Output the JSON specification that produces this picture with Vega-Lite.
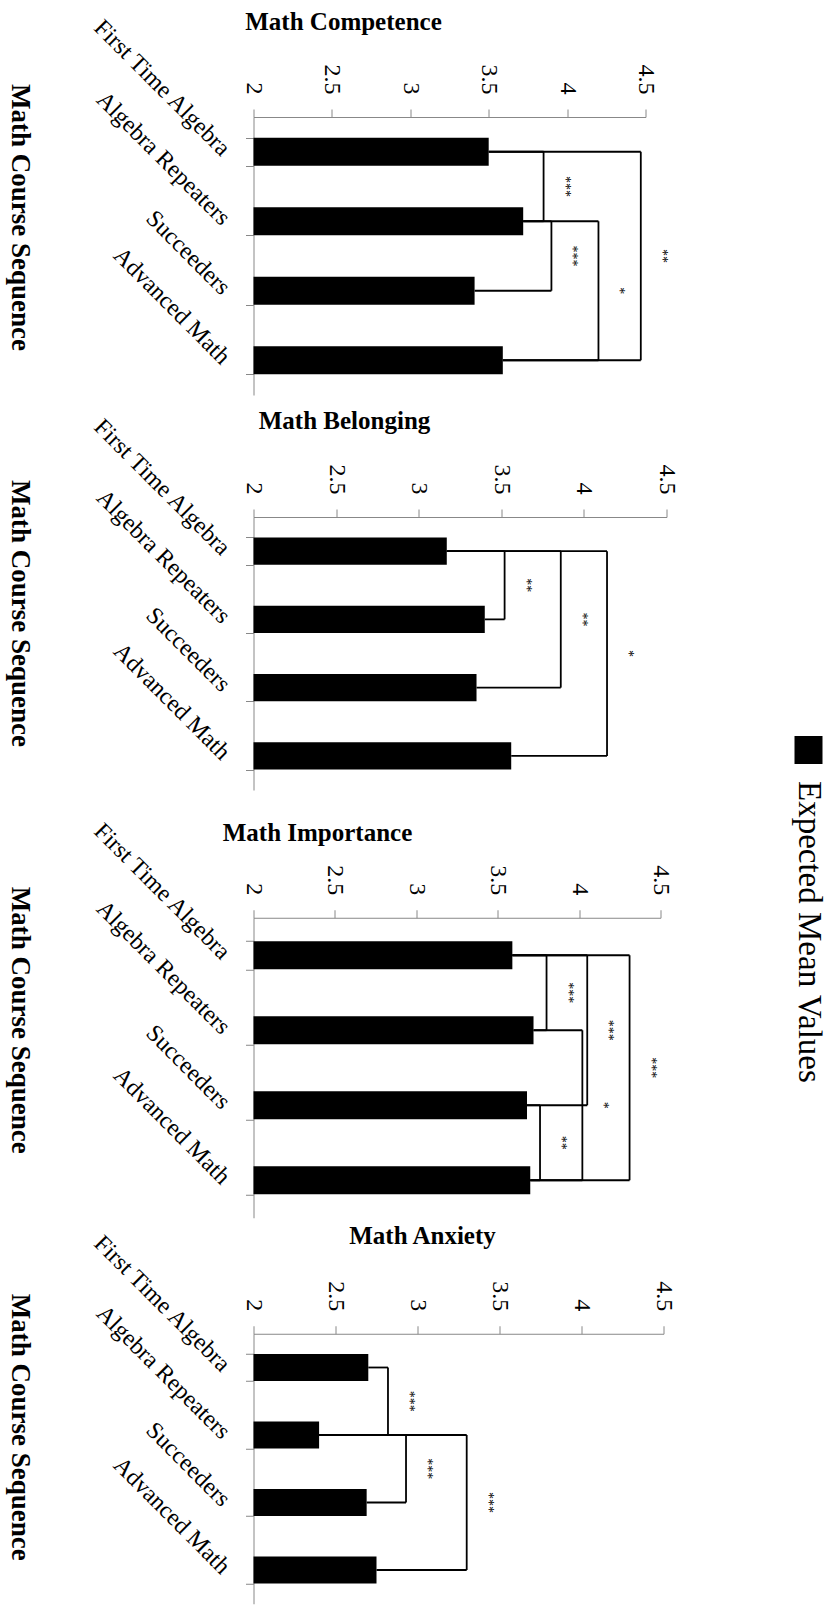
{
  "$schema": "https://vega.github.io/schema/vega-lite/v6.json",
  "padding": {"left": 6.5, "top": 9, "right": 5, "bottom": 0},
  "config": {"font": "Liberation Serif", "view": {"stroke": null}},
  "datasets": {
    "bars": [
      {"panel": "Math Competence", "cat": "First Time Algebra", "value": 3.50},
      {"panel": "Math Competence", "cat": "Algebra Repeaters", "value": 3.72},
      {"panel": "Math Competence", "cat": "Succeeders", "value": 3.41},
      {"panel": "Math Competence", "cat": "Advanced Math", "value": 3.59},
      {"panel": "Math Belonging", "cat": "First Time Algebra", "value": 3.17},
      {"panel": "Math Belonging", "cat": "Algebra Repeaters", "value": 3.40},
      {"panel": "Math Belonging", "cat": "Succeeders", "value": 3.35},
      {"panel": "Math Belonging", "cat": "Advanced Math", "value": 3.56},
      {"panel": "Math Importance", "cat": "First Time Algebra", "value": 3.59},
      {"panel": "Math Importance", "cat": "Algebra Repeaters", "value": 3.72},
      {"panel": "Math Importance", "cat": "Succeeders", "value": 3.68},
      {"panel": "Math Importance", "cat": "Advanced Math", "value": 3.70},
      {"panel": "Math Anxiety", "cat": "First Time Algebra", "value": 2.70},
      {"panel": "Math Anxiety", "cat": "Algebra Repeaters", "value": 2.40},
      {"panel": "Math Anxiety", "cat": "Succeeders", "value": 2.69},
      {"panel": "Math Anxiety", "cat": "Advanced Math", "value": 2.75}
    ],
    "brackets": [
      {"panel": "Math Competence", "from": "First Time Algebra", "to": "Algebra Repeaters", "fromVal": 3.50, "toVal": 3.72, "level": 3.85, "sig": "***"},
      {"panel": "Math Competence", "from": "Algebra Repeaters", "to": "Succeeders", "fromVal": 3.72, "toVal": 3.41, "level": 3.90, "sig": "***"},
      {"panel": "Math Competence", "from": "Algebra Repeaters", "to": "Advanced Math", "fromVal": 3.72, "toVal": 3.59, "level": 4.20, "sig": "*"},
      {"panel": "Math Competence", "from": "First Time Algebra", "to": "Advanced Math", "fromVal": 3.50, "toVal": 3.59, "level": 4.47, "sig": "**"},
      {"panel": "Math Belonging", "from": "First Time Algebra", "to": "Algebra Repeaters", "fromVal": 3.17, "toVal": 3.40, "level": 3.52, "sig": "**"},
      {"panel": "Math Belonging", "from": "First Time Algebra", "to": "Succeeders", "fromVal": 3.17, "toVal": 3.35, "level": 3.86, "sig": "**"},
      {"panel": "Math Belonging", "from": "First Time Algebra", "to": "Advanced Math", "fromVal": 3.17, "toVal": 3.56, "level": 4.14, "sig": "*"},
      {"panel": "Math Importance", "from": "First Time Algebra", "to": "Algebra Repeaters", "fromVal": 3.59, "toVal": 3.72, "level": 3.80, "sig": "***"},
      {"panel": "Math Importance", "from": "First Time Algebra", "to": "Succeeders", "fromVal": 3.59, "toVal": 3.68, "level": 4.05, "sig": "***"},
      {"panel": "Math Importance", "from": "First Time Algebra", "to": "Advanced Math", "fromVal": 3.59, "toVal": 3.70, "level": 4.31, "sig": "***"},
      {"panel": "Math Importance", "from": "Algebra Repeaters", "to": "Advanced Math", "fromVal": 3.72, "toVal": 3.70, "level": 4.02, "sig": "*"},
      {"panel": "Math Importance", "from": "Succeeders", "to": "Advanced Math", "fromVal": 3.68, "toVal": 3.70, "level": 3.76, "sig": "**"},
      {"panel": "Math Anxiety", "from": "First Time Algebra", "to": "Algebra Repeaters", "fromVal": 2.70, "toVal": 2.40, "level": 2.82, "sig": "***"},
      {"panel": "Math Anxiety", "from": "Algebra Repeaters", "to": "Succeeders", "fromVal": 2.40, "toVal": 2.69, "level": 2.93, "sig": "***"},
      {"panel": "Math Anxiety", "from": "Algebra Repeaters", "to": "Advanced Math", "fromVal": 2.40, "toVal": 2.75, "level": 3.30, "sig": "***"}
    ]
  },
  "spacing": 113,
  "hconcat": [
    {
      "spacing": 26.75,
      "vconcat": [
        {
          "spacing": 13,
          "vconcat": [
            {
              "title": {"text": "Math Competence", "anchor": "middle", "dx": -106, "offset": -21, "font": "Liberation Serif", "fontSize": 25, "fontWeight": "bold", "color": "#000000"},
              "width": 392, "height": 278,
              "layer": [
                {"data": {"name": "bars"}, "transform": [{"filter": {"field": "panel", "equal": "Math Competence"}}],
                 "mark": {"type": "bar", "color": "#000000"},
                 "encoding": {
                   "y": {"field": "cat", "type": "nominal", "title": "Math Course Sequence", "scale": {"type": "band", "domain": ["First Time Algebra", "Algebra Repeaters", "Succeeders", "Advanced Math"], "paddingInner": 0.6, "paddingOuter": 0.3},
                         "axis": {"title": "Math Course Sequence", "titleFont": "Liberation Serif", "titleFontSize": 27, "titleFontWeight": "bold", "titleColor": "#000000", "titleAngle": 90, "titleAlign": "center", "titleBaseline": "middle", "titleX": -234, "titleY": 100,
                                  "labelAngle": 45, "labelAlign": "right", "labelBaseline": "middle", "labelFontSize": 24, "labelColor": "#000000", "labelPadding": 20, "labelLimit": 400,
                                  "tickBand": "extent", "tickSize": 8, "tickColor": "#888888", "domainColor": "#888888", "grid": false}},
                   "x": {"field": "value", "type": "quantitative", "title": null, "scale": {"domain": [2, 4.5], "nice": false, "zero": false},
                         "axis": {"orient": "top", "values": [2, 2.5, 3, 3.5, 4, 4.5], "format": "~g", "labelAngle": 90, "labelAlign": "right", "labelBaseline": "middle", "labelFontSize": 24, "labelColor": "#000000", "labelPadding": 15, "labelFlush": false, "labelOverlap": false, "tickSize": 8, "tickColor": "#888888", "domainColor": "#888888", "grid": false, "title": null}},
                   "x2": {"datum": 2}
                 }},
                {"data": {"name": "brackets"}, "transform": [{"filter": {"field": "panel", "equal": "Math Competence"}}],
                 "mark": {"type": "rule", "color": "#000000", "strokeWidth": 1.8},
                 "encoding": {
                   "y": {"field": "from", "type": "nominal", "title": "Math Course Sequence", "scale": {"type": "band", "domain": ["First Time Algebra", "Algebra Repeaters", "Succeeders", "Advanced Math"]}},
                   "x": {"field": "fromVal", "type": "quantitative", "title": null, "scale": {"domain": [2, 4.5], "nice": false, "zero": false}},
                   "x2": {"field": "level", "title": null}
                 }},
                {"data": {"name": "brackets"}, "transform": [{"filter": {"field": "panel", "equal": "Math Competence"}}],
                 "mark": {"type": "rule", "color": "#000000", "strokeWidth": 1.8},
                 "encoding": {
                   "y": {"field": "to", "type": "nominal", "title": "Math Course Sequence", "scale": {"type": "band", "domain": ["First Time Algebra", "Algebra Repeaters", "Succeeders", "Advanced Math"]}},
                   "x": {"field": "toVal", "type": "quantitative", "title": null, "scale": {"domain": [2, 4.5], "nice": false, "zero": false}},
                   "x2": {"field": "level", "title": null}
                 }},
                {"data": {"name": "brackets"}, "transform": [{"filter": {"field": "panel", "equal": "Math Competence"}}],
                 "mark": {"type": "rule", "color": "#000000", "strokeWidth": 1.8},
                 "encoding": {
                   "y": {"field": "from", "type": "nominal", "title": "Math Course Sequence", "scale": {"type": "band", "domain": ["First Time Algebra", "Algebra Repeaters", "Succeeders", "Advanced Math"]}},
                   "y2": {"field": "to", "title": "Math Course Sequence"},
                   "x": {"field": "level", "type": "quantitative", "title": null, "scale": {"domain": [2, 4.5], "nice": false, "zero": false}}
                 }},
                {"data": {"name": "brackets"}, "transform": [{"filter": {"field": "panel", "equal": "Math Competence"}}, {"filter": "indexof(['First Time Algebra','Algebra Repeaters','Succeeders','Advanced Math'], datum.to) - indexof(['First Time Algebra','Algebra Repeaters','Succeeders','Advanced Math'], datum.from) == 1"}],
                 "mark": {"type": "text", "angle": 90, "align": "center", "baseline": "middle", "dx": 34.75, "dy": -21, "fontSize": 14, "color": "#000000"},
                 "encoding": {
                   "y": {"field": "from", "type": "nominal", "title": "Math Course Sequence", "scale": {"type": "band", "domain": ["First Time Algebra", "Algebra Repeaters", "Succeeders", "Advanced Math"]}},
                   "x": {"field": "level", "type": "quantitative", "title": null, "scale": {"domain": [2, 4.5], "nice": false, "zero": false}},
                   "text": {"field": "sig"}
                 }},
                {"data": {"name": "brackets"}, "transform": [{"filter": {"field": "panel", "equal": "Math Competence"}}, {"filter": "indexof(['First Time Algebra','Algebra Repeaters','Succeeders','Advanced Math'], datum.to) - indexof(['First Time Algebra','Algebra Repeaters','Succeeders','Advanced Math'], datum.from) == 2"}],
                 "mark": {"type": "text", "angle": 90, "align": "center", "baseline": "middle", "dx": 69.5, "dy": -21, "fontSize": 14, "color": "#000000"},
                 "encoding": {
                   "y": {"field": "from", "type": "nominal", "title": "Math Course Sequence", "scale": {"type": "band", "domain": ["First Time Algebra", "Algebra Repeaters", "Succeeders", "Advanced Math"]}},
                   "x": {"field": "level", "type": "quantitative", "title": null, "scale": {"domain": [2, 4.5], "nice": false, "zero": false}},
                   "text": {"field": "sig"}
                 }},
                {"data": {"name": "brackets"}, "transform": [{"filter": {"field": "panel", "equal": "Math Competence"}}, {"filter": "indexof(['First Time Algebra','Algebra Repeaters','Succeeders','Advanced Math'], datum.to) - indexof(['First Time Algebra','Algebra Repeaters','Succeeders','Advanced Math'], datum.from) == 3"}],
                 "mark": {"type": "text", "angle": 90, "align": "center", "baseline": "middle", "dx": 104.25, "dy": -21, "fontSize": 14, "color": "#000000"},
                 "encoding": {
                   "y": {"field": "from", "type": "nominal", "title": "Math Course Sequence", "scale": {"type": "band", "domain": ["First Time Algebra", "Algebra Repeaters", "Succeeders", "Advanced Math"]}},
                   "x": {"field": "level", "type": "quantitative", "title": null, "scale": {"domain": [2, 4.5], "nice": false, "zero": false}},
                   "text": {"field": "sig"}
                 }}
              ]
            },
            {
              "title": {"text": "Math Belonging", "anchor": "middle", "dx": -115.5, "offset": -20.6, "font": "Liberation Serif", "fontSize": 25, "fontWeight": "bold", "color": "#000000"},
              "width": 413, "height": 273,
              "layer": [
                {"data": {"name": "bars"}, "transform": [{"filter": {"field": "panel", "equal": "Math Belonging"}}],
                 "mark": {"type": "bar", "color": "#000000"},
                 "encoding": {
                   "y": {"field": "cat", "type": "nominal", "title": "Math Course Sequence", "scale": {"type": "band", "domain": ["First Time Algebra", "Algebra Repeaters", "Succeeders", "Advanced Math"], "paddingInner": 0.6, "paddingOuter": 0.3},
                         "axis": {"title": "Math Course Sequence", "titleFont": "Liberation Serif", "titleFontSize": 27, "titleFontWeight": "bold", "titleColor": "#000000", "titleAngle": 90, "titleAlign": "center", "titleBaseline": "middle", "titleX": -234, "titleY": 96,
                                  "labelAngle": 45, "labelAlign": "right", "labelBaseline": "middle", "labelFontSize": 24, "labelColor": "#000000", "labelPadding": 20, "labelLimit": 400,
                                  "tickBand": "extent", "tickSize": 8, "tickColor": "#888888", "domainColor": "#888888", "grid": false}},
                   "x": {"field": "value", "type": "quantitative", "title": null, "scale": {"domain": [2, 4.5], "nice": false, "zero": false},
                         "axis": {"orient": "top", "values": [2, 2.5, 3, 3.5, 4, 4.5], "format": "~g", "labelAngle": 90, "labelAlign": "right", "labelBaseline": "middle", "labelFontSize": 24, "labelColor": "#000000", "labelPadding": 15, "labelFlush": false, "labelOverlap": false, "tickSize": 8, "tickColor": "#888888", "domainColor": "#888888", "grid": false, "title": null}},
                   "x2": {"datum": 2}
                 }},
                {"data": {"name": "brackets"}, "transform": [{"filter": {"field": "panel", "equal": "Math Belonging"}}],
                 "mark": {"type": "rule", "color": "#000000", "strokeWidth": 1.8},
                 "encoding": {
                   "y": {"field": "from", "type": "nominal", "title": "Math Course Sequence", "scale": {"type": "band", "domain": ["First Time Algebra", "Algebra Repeaters", "Succeeders", "Advanced Math"]}},
                   "x": {"field": "fromVal", "type": "quantitative", "title": null, "scale": {"domain": [2, 4.5], "nice": false, "zero": false}},
                   "x2": {"field": "level", "title": null}
                 }},
                {"data": {"name": "brackets"}, "transform": [{"filter": {"field": "panel", "equal": "Math Belonging"}}],
                 "mark": {"type": "rule", "color": "#000000", "strokeWidth": 1.8},
                 "encoding": {
                   "y": {"field": "to", "type": "nominal", "title": "Math Course Sequence", "scale": {"type": "band", "domain": ["First Time Algebra", "Algebra Repeaters", "Succeeders", "Advanced Math"]}},
                   "x": {"field": "toVal", "type": "quantitative", "title": null, "scale": {"domain": [2, 4.5], "nice": false, "zero": false}},
                   "x2": {"field": "level", "title": null}
                 }},
                {"data": {"name": "brackets"}, "transform": [{"filter": {"field": "panel", "equal": "Math Belonging"}}],
                 "mark": {"type": "rule", "color": "#000000", "strokeWidth": 1.8},
                 "encoding": {
                   "y": {"field": "from", "type": "nominal", "title": "Math Course Sequence", "scale": {"type": "band", "domain": ["First Time Algebra", "Algebra Repeaters", "Succeeders", "Advanced Math"]}},
                   "y2": {"field": "to", "title": "Math Course Sequence"},
                   "x": {"field": "level", "type": "quantitative", "title": null, "scale": {"domain": [2, 4.5], "nice": false, "zero": false}}
                 }},
                {"data": {"name": "brackets"}, "transform": [{"filter": {"field": "panel", "equal": "Math Belonging"}}, {"filter": "indexof(['First Time Algebra','Algebra Repeaters','Succeeders','Advanced Math'], datum.to) - indexof(['First Time Algebra','Algebra Repeaters','Succeeders','Advanced Math'], datum.from) == 1"}],
                 "mark": {"type": "text", "angle": 90, "align": "center", "baseline": "middle", "dx": 34.1, "dy": -21, "fontSize": 14, "color": "#000000"},
                 "encoding": {
                   "y": {"field": "from", "type": "nominal", "title": "Math Course Sequence", "scale": {"type": "band", "domain": ["First Time Algebra", "Algebra Repeaters", "Succeeders", "Advanced Math"]}},
                   "x": {"field": "level", "type": "quantitative", "title": null, "scale": {"domain": [2, 4.5], "nice": false, "zero": false}},
                   "text": {"field": "sig"}
                 }},
                {"data": {"name": "brackets"}, "transform": [{"filter": {"field": "panel", "equal": "Math Belonging"}}, {"filter": "indexof(['First Time Algebra','Algebra Repeaters','Succeeders','Advanced Math'], datum.to) - indexof(['First Time Algebra','Algebra Repeaters','Succeeders','Advanced Math'], datum.from) == 2"}],
                 "mark": {"type": "text", "angle": 90, "align": "center", "baseline": "middle", "dx": 68.25, "dy": -21, "fontSize": 14, "color": "#000000"},
                 "encoding": {
                   "y": {"field": "from", "type": "nominal", "title": "Math Course Sequence", "scale": {"type": "band", "domain": ["First Time Algebra", "Algebra Repeaters", "Succeeders", "Advanced Math"]}},
                   "x": {"field": "level", "type": "quantitative", "title": null, "scale": {"domain": [2, 4.5], "nice": false, "zero": false}},
                   "text": {"field": "sig"}
                 }},
                {"data": {"name": "brackets"}, "transform": [{"filter": {"field": "panel", "equal": "Math Belonging"}}, {"filter": "indexof(['First Time Algebra','Algebra Repeaters','Succeeders','Advanced Math'], datum.to) - indexof(['First Time Algebra','Algebra Repeaters','Succeeders','Advanced Math'], datum.from) == 3"}],
                 "mark": {"type": "text", "angle": 90, "align": "center", "baseline": "middle", "dx": 102.4, "dy": -21, "fontSize": 14, "color": "#000000"},
                 "encoding": {
                   "y": {"field": "from", "type": "nominal", "title": "Math Course Sequence", "scale": {"type": "band", "domain": ["First Time Algebra", "Algebra Repeaters", "Succeeders", "Advanced Math"]}},
                   "x": {"field": "level", "type": "quantitative", "title": null, "scale": {"domain": [2, 4.5], "nice": false, "zero": false}},
                   "text": {"field": "sig"}
                 }}
              ]
            }
          ]
        },
        {
          "spacing": 5,
          "vconcat": [
            {
              "title": {"text": "Math Importance", "anchor": "middle", "dx": -139.5, "offset": -28.25, "font": "Liberation Serif", "fontSize": 25, "fontWeight": "bold", "color": "#000000"},
              "width": 407, "height": 300,
              "layer": [
                {"data": {"name": "bars"}, "transform": [{"filter": {"field": "panel", "equal": "Math Importance"}}],
                 "mark": {"type": "bar", "color": "#000000"},
                 "encoding": {
                   "y": {"field": "cat", "type": "nominal", "title": "Math Course Sequence", "scale": {"type": "band", "domain": ["First Time Algebra", "Algebra Repeaters", "Succeeders", "Advanced Math"], "paddingInner": 0.625, "paddingOuter": 0.3125},
                         "axis": {"title": "Math Course Sequence", "titleFont": "Liberation Serif", "titleFontSize": 27, "titleFontWeight": "bold", "titleColor": "#000000", "titleAngle": 90, "titleAlign": "center", "titleBaseline": "middle", "titleX": -234, "titleY": 102,
                                  "labelAngle": 45, "labelAlign": "right", "labelBaseline": "middle", "labelFontSize": 24, "labelColor": "#000000", "labelPadding": 20, "labelLimit": 400,
                                  "tickBand": "extent", "tickSize": 8, "tickColor": "#888888", "domainColor": "#888888", "grid": false}},
                   "x": {"field": "value", "type": "quantitative", "title": null, "scale": {"domain": [2, 4.5], "nice": false, "zero": false},
                         "axis": {"orient": "top", "values": [2, 2.5, 3, 3.5, 4, 4.5], "format": "~g", "labelAngle": 90, "labelAlign": "right", "labelBaseline": "middle", "labelFontSize": 24, "labelColor": "#000000", "labelPadding": 15, "labelFlush": false, "labelOverlap": false, "tickSize": 8, "tickColor": "#888888", "domainColor": "#888888", "grid": false, "title": null}},
                   "x2": {"datum": 2}
                 }},
                {"data": {"name": "brackets"}, "transform": [{"filter": {"field": "panel", "equal": "Math Importance"}}],
                 "mark": {"type": "rule", "color": "#000000", "strokeWidth": 1.8},
                 "encoding": {
                   "y": {"field": "from", "type": "nominal", "title": "Math Course Sequence", "scale": {"type": "band", "domain": ["First Time Algebra", "Algebra Repeaters", "Succeeders", "Advanced Math"]}},
                   "x": {"field": "fromVal", "type": "quantitative", "title": null, "scale": {"domain": [2, 4.5], "nice": false, "zero": false}},
                   "x2": {"field": "level", "title": null}
                 }},
                {"data": {"name": "brackets"}, "transform": [{"filter": {"field": "panel", "equal": "Math Importance"}}],
                 "mark": {"type": "rule", "color": "#000000", "strokeWidth": 1.8},
                 "encoding": {
                   "y": {"field": "to", "type": "nominal", "title": "Math Course Sequence", "scale": {"type": "band", "domain": ["First Time Algebra", "Algebra Repeaters", "Succeeders", "Advanced Math"]}},
                   "x": {"field": "toVal", "type": "quantitative", "title": null, "scale": {"domain": [2, 4.5], "nice": false, "zero": false}},
                   "x2": {"field": "level", "title": null}
                 }},
                {"data": {"name": "brackets"}, "transform": [{"filter": {"field": "panel", "equal": "Math Importance"}}],
                 "mark": {"type": "rule", "color": "#000000", "strokeWidth": 1.8},
                 "encoding": {
                   "y": {"field": "from", "type": "nominal", "title": "Math Course Sequence", "scale": {"type": "band", "domain": ["First Time Algebra", "Algebra Repeaters", "Succeeders", "Advanced Math"]}},
                   "y2": {"field": "to", "title": "Math Course Sequence"},
                   "x": {"field": "level", "type": "quantitative", "title": null, "scale": {"domain": [2, 4.5], "nice": false, "zero": false}}
                 }},
                {"data": {"name": "brackets"}, "transform": [{"filter": {"field": "panel", "equal": "Math Importance"}}, {"filter": "indexof(['First Time Algebra','Algebra Repeaters','Succeeders','Advanced Math'], datum.to) - indexof(['First Time Algebra','Algebra Repeaters','Succeeders','Advanced Math'], datum.from) == 1"}],
                 "mark": {"type": "text", "angle": 90, "align": "center", "baseline": "middle", "dx": 37.5, "dy": -21, "fontSize": 14, "color": "#000000"},
                 "encoding": {
                   "y": {"field": "from", "type": "nominal", "title": "Math Course Sequence", "scale": {"type": "band", "domain": ["First Time Algebra", "Algebra Repeaters", "Succeeders", "Advanced Math"]}},
                   "x": {"field": "level", "type": "quantitative", "title": null, "scale": {"domain": [2, 4.5], "nice": false, "zero": false}},
                   "text": {"field": "sig"}
                 }},
                {"data": {"name": "brackets"}, "transform": [{"filter": {"field": "panel", "equal": "Math Importance"}}, {"filter": "indexof(['First Time Algebra','Algebra Repeaters','Succeeders','Advanced Math'], datum.to) - indexof(['First Time Algebra','Algebra Repeaters','Succeeders','Advanced Math'], datum.from) == 2"}],
                 "mark": {"type": "text", "angle": 90, "align": "center", "baseline": "middle", "dx": 75, "dy": -21, "fontSize": 14, "color": "#000000"},
                 "encoding": {
                   "y": {"field": "from", "type": "nominal", "title": "Math Course Sequence", "scale": {"type": "band", "domain": ["First Time Algebra", "Algebra Repeaters", "Succeeders", "Advanced Math"]}},
                   "x": {"field": "level", "type": "quantitative", "title": null, "scale": {"domain": [2, 4.5], "nice": false, "zero": false}},
                   "text": {"field": "sig"}
                 }},
                {"data": {"name": "brackets"}, "transform": [{"filter": {"field": "panel", "equal": "Math Importance"}}, {"filter": "indexof(['First Time Algebra','Algebra Repeaters','Succeeders','Advanced Math'], datum.to) - indexof(['First Time Algebra','Algebra Repeaters','Succeeders','Advanced Math'], datum.from) == 3"}],
                 "mark": {"type": "text", "angle": 90, "align": "center", "baseline": "middle", "dx": 112.5, "dy": -21, "fontSize": 14, "color": "#000000"},
                 "encoding": {
                   "y": {"field": "from", "type": "nominal", "title": "Math Course Sequence", "scale": {"type": "band", "domain": ["First Time Algebra", "Algebra Repeaters", "Succeeders", "Advanced Math"]}},
                   "x": {"field": "level", "type": "quantitative", "title": null, "scale": {"domain": [2, 4.5], "nice": false, "zero": false}},
                   "text": {"field": "sig"}
                 }}
              ]
            },
            {
              "title": {"text": "Math Anxiety", "anchor": "middle", "dx": -36, "offset": -19, "font": "Liberation Serif", "fontSize": 25, "fontWeight": "bold", "color": "#000000"},
              "width": 410, "height": 270,
              "layer": [
                {"data": {"name": "bars"}, "transform": [{"filter": {"field": "panel", "equal": "Math Anxiety"}}],
                 "mark": {"type": "bar", "color": "#000000"},
                 "encoding": {
                   "y": {"field": "cat", "type": "nominal", "title": "Math Course Sequence", "scale": {"type": "band", "domain": ["First Time Algebra", "Algebra Repeaters", "Succeeders", "Advanced Math"], "paddingInner": 0.6, "paddingOuter": 0.3},
                         "axis": {"title": "Math Course Sequence", "titleFont": "Liberation Serif", "titleFontSize": 27, "titleFontWeight": "bold", "titleColor": "#000000", "titleAngle": 90, "titleAlign": "center", "titleBaseline": "middle", "titleX": -234, "titleY": 93,
                                  "labelAngle": 45, "labelAlign": "right", "labelBaseline": "middle", "labelFontSize": 24, "labelColor": "#000000", "labelPadding": 20, "labelLimit": 400,
                                  "tickBand": "extent", "tickSize": 8, "tickColor": "#888888", "domainColor": "#888888", "grid": false}},
                   "x": {"field": "value", "type": "quantitative", "title": null, "scale": {"domain": [2, 4.5], "nice": false, "zero": false},
                         "axis": {"orient": "top", "values": [2, 2.5, 3, 3.5, 4, 4.5], "format": "~g", "labelAngle": 90, "labelAlign": "right", "labelBaseline": "middle", "labelFontSize": 24, "labelColor": "#000000", "labelPadding": 15, "labelFlush": false, "labelOverlap": false, "tickSize": 8, "tickColor": "#888888", "domainColor": "#888888", "grid": false, "title": null}},
                   "x2": {"datum": 2}
                 }},
                {"data": {"name": "brackets"}, "transform": [{"filter": {"field": "panel", "equal": "Math Anxiety"}}],
                 "mark": {"type": "rule", "color": "#000000", "strokeWidth": 1.8},
                 "encoding": {
                   "y": {"field": "from", "type": "nominal", "title": "Math Course Sequence", "scale": {"type": "band", "domain": ["First Time Algebra", "Algebra Repeaters", "Succeeders", "Advanced Math"]}},
                   "x": {"field": "fromVal", "type": "quantitative", "title": null, "scale": {"domain": [2, 4.5], "nice": false, "zero": false}},
                   "x2": {"field": "level", "title": null}
                 }},
                {"data": {"name": "brackets"}, "transform": [{"filter": {"field": "panel", "equal": "Math Anxiety"}}],
                 "mark": {"type": "rule", "color": "#000000", "strokeWidth": 1.8},
                 "encoding": {
                   "y": {"field": "to", "type": "nominal", "title": "Math Course Sequence", "scale": {"type": "band", "domain": ["First Time Algebra", "Algebra Repeaters", "Succeeders", "Advanced Math"]}},
                   "x": {"field": "toVal", "type": "quantitative", "title": null, "scale": {"domain": [2, 4.5], "nice": false, "zero": false}},
                   "x2": {"field": "level", "title": null}
                 }},
                {"data": {"name": "brackets"}, "transform": [{"filter": {"field": "panel", "equal": "Math Anxiety"}}],
                 "mark": {"type": "rule", "color": "#000000", "strokeWidth": 1.8},
                 "encoding": {
                   "y": {"field": "from", "type": "nominal", "title": "Math Course Sequence", "scale": {"type": "band", "domain": ["First Time Algebra", "Algebra Repeaters", "Succeeders", "Advanced Math"]}},
                   "y2": {"field": "to", "title": "Math Course Sequence"},
                   "x": {"field": "level", "type": "quantitative", "title": null, "scale": {"domain": [2, 4.5], "nice": false, "zero": false}}
                 }},
                {"data": {"name": "brackets"}, "transform": [{"filter": {"field": "panel", "equal": "Math Anxiety"}}, {"filter": "indexof(['First Time Algebra','Algebra Repeaters','Succeeders','Advanced Math'], datum.to) - indexof(['First Time Algebra','Algebra Repeaters','Succeeders','Advanced Math'], datum.from) == 1"}],
                 "mark": {"type": "text", "angle": 90, "align": "center", "baseline": "middle", "dx": 33.75, "dy": -21, "fontSize": 14, "color": "#000000"},
                 "encoding": {
                   "y": {"field": "from", "type": "nominal", "title": "Math Course Sequence", "scale": {"type": "band", "domain": ["First Time Algebra", "Algebra Repeaters", "Succeeders", "Advanced Math"]}},
                   "x": {"field": "level", "type": "quantitative", "title": null, "scale": {"domain": [2, 4.5], "nice": false, "zero": false}},
                   "text": {"field": "sig"}
                 }},
                {"data": {"name": "brackets"}, "transform": [{"filter": {"field": "panel", "equal": "Math Anxiety"}}, {"filter": "indexof(['First Time Algebra','Algebra Repeaters','Succeeders','Advanced Math'], datum.to) - indexof(['First Time Algebra','Algebra Repeaters','Succeeders','Advanced Math'], datum.from) == 2"}],
                 "mark": {"type": "text", "angle": 90, "align": "center", "baseline": "middle", "dx": 67.5, "dy": -21, "fontSize": 14, "color": "#000000"},
                 "encoding": {
                   "y": {"field": "from", "type": "nominal", "title": "Math Course Sequence", "scale": {"type": "band", "domain": ["First Time Algebra", "Algebra Repeaters", "Succeeders", "Advanced Math"]}},
                   "x": {"field": "level", "type": "quantitative", "title": null, "scale": {"domain": [2, 4.5], "nice": false, "zero": false}},
                   "text": {"field": "sig"}
                 }}
              ]
            }
          ]
        }
      ]
    },
    {
      "width": 28, "height": 1596,
      "data": {"values": [{"series": "Expected Mean Values"}]},
      "layer": [
        {"mark": {"type": "bar", "color": "#000000"},
         "encoding": {
           "x": {"field": "series", "type": "nominal", "scale": {"type": "band", "paddingInner": 0, "paddingOuter": 0}, "axis": null},
           "y": {"field": "series", "type": "nominal", "scale": {"type": "band", "paddingInner": 0, "paddingOuter": 0, "range": [619, 647]}, "axis": null}
         }},
        {"mark": {"type": "text", "angle": 90, "align": "left", "baseline": "middle", "dx": 31, "font": "Liberation Serif", "fontSize": 33, "color": "#000000"},
         "encoding": {
           "x": {"field": "series", "type": "nominal", "axis": null},
           "y": {"field": "series", "type": "nominal", "axis": null},
           "text": {"field": "series"}
         }}
      ]
    }
  ]
}
